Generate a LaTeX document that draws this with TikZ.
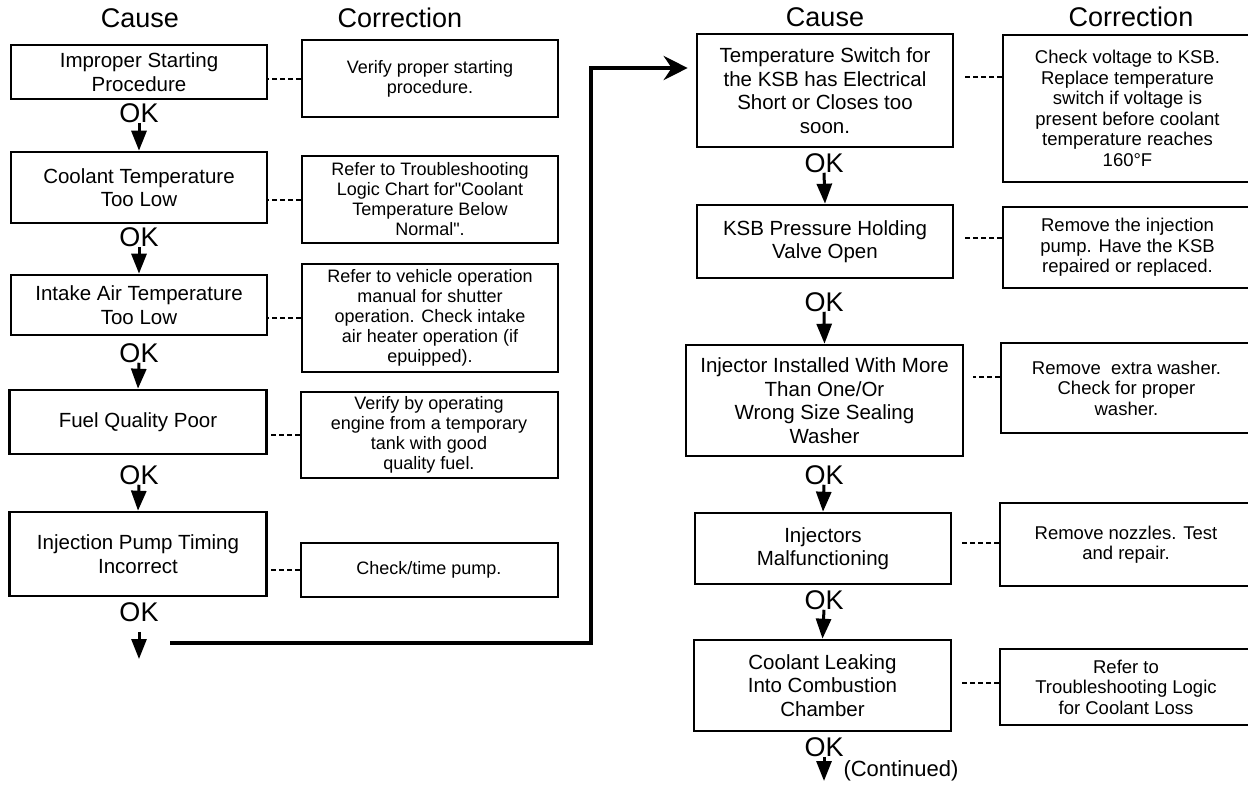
\documentclass[tikz,border=0pt]{standalone}
\usepackage{fontspec}
\setmainfont{Liberation Sans}[Ligatures=TeXOff]
\usepackage{tikz}
\usetikzlibrary{arrows.meta, calc, positioning}

\tikzset{
  causebox/.style={draw, line width=2.6pt, align=center, inner sep=2pt, font=\fontsize{20.5}{23.5}\selectfont},
  fixbox/.style={draw, line width=2pt, align=center, inner sep=2pt, font=\fontsize{18}{20}\selectfont},
  head/.style={font=\fontsize{27}{30}\selectfont},
  okmark/.style={font=\fontsize{27}{30}\selectfont, inner sep=0pt},
  okarrow/.style={line width=3pt, -{Triangle[length=20pt,width=15pt]}},
  dashlink/.style={line width=2pt, dash pattern=on 5pt off 3pt},
  jumpline/.style={line width=4.5pt, -{Stealth[length=24pt,width=24pt,inset=8pt]}}
}

\begin{document}
\begin{tikzpicture}[x=1pt, y=-1pt]
    \clip (0,0) rectangle (1248,785);

    % left column
    \node[head] (hc1) at (140,18) {Cause};
    \node[head] (hf1) at (400,18) {Correction};

    \node[causebox, minimum width=256pt, minimum height=54pt] (b1) at (139,72) {Improper Starting\\Procedure};
    \node[causebox, minimum width=256pt, minimum height=71pt] (b2) at (139,187.5) {Coolant Temperature\\Too Low};
    \node[causebox, minimum width=256pt, minimum height=60pt] (b3) at (139,305) {Intake Air Temperature\\Too Low};
    \node[causebox, minimum width=257pt, minimum height=64pt] (b4) at (138,422) {Fuel Quality Poor};
    \node[causebox, minimum width=257pt, minimum height=84pt] (b5) at (138,554) {Injection Pump Timing\\Incorrect};

    \node[fixbox, minimum width=256pt, minimum height=77pt] (c1) at (430,78.5) {Verify proper starting\\procedure.};
    \node[fixbox, minimum width=256pt, minimum height=87pt] (c2) at (430,199.5) {Refer to Troubleshooting\\Logic Chart for"Coolant\\Temperature Below\\Normal".};
    \node[fixbox, minimum width=256pt, minimum height=108pt] (c3) at (430,318) {Refer to vehicle operation\\manual for shutter\\operation. Check intake\\air heater operation (if\\epuipped).};
    \node[fixbox, minimum width=257pt, minimum height=86pt] (c4) at (429,435) {Verify by operating\\engine from a temporary\\tank with good\\quality fuel.};
    \node[fixbox, minimum width=257pt, minimum height=54pt] (c5) at (429,570) {Check/time pump.};

    \foreach \i in {1,...,5}
        \draw[dashlink] (c\i.west) -- (c\i.west -| b\i.east);

    \node[okmark] (ok1) at (139,113) {OK};
    \node[okmark] (ok2) at (139,237) {OK};
    \node[okmark] (ok3) at (139,353) {OK};
    \node[okmark] (ok4) at (139,475) {OK};
    \node[okmark] (ok5) at (139,612) {OK};
    \draw[okarrow] (ok1.south) -- (b2.north);
    \draw[okarrow] (ok2.south) -- (b3.north);
    \draw[okarrow] (ok3.south) -- (b4.north);
    \draw[okarrow] (ok4.south) -- (b5.north);
    \coordinate (end1) at (139,659);
    \draw[okarrow] ([yshift=-10pt]ok5.south) -- (end1);

    % jump to the second column
    \coordinate (jstart) at (170,643);
    \coordinate (jturn) at (591,68);

    % right column
    \node[head] (hc2) at (825,17) {Cause};
    \node[head] (hf2) at (1131,17) {Correction};

    \node[causebox, minimum width=256pt, minimum height=113pt] (r1) at (825,90.5) {Temperature Switch for\\the KSB has Electrical\\Short or Closes too\\soon.};
    \node[causebox, minimum width=256pt, minimum height=73pt] (r2) at (825,241.5) {KSB Pressure Holding\\Valve Open};
    \node[causebox, minimum width=277pt, minimum height=111pt] (r3) at (824.5,400.5) {Injector Installed With More\\Than One/Or\\Wrong Size Sealing\\Washer};
    \node[causebox, minimum width=256pt, minimum height=71pt] (r4) at (823,548.5) {Injectors\\Malfunctioning};
    \node[causebox, minimum width=257pt, minimum height=91pt] (r5) at (822.5,685.5) {Coolant Leaking\\Into Combustion\\Chamber};

    \node[fixbox, font=\fontsize{18.5}{20.5}\selectfont, minimum width=249pt, minimum height=147pt] (s1) at (1127.5,108.5) {Check voltage to KSB.\\Replace temperature\\switch if voltage is\\present before coolant\\temperature reaches\\160°F};
    \node[fixbox, font=\fontsize{18.5}{20.5}\selectfont, minimum width=249pt, minimum height=81pt] (s2) at (1127.5,247.5) {Remove the injection\\pump. Have the KSB\\repaired or replaced.};
    \node[fixbox, font=\fontsize{18.5}{20.5}\selectfont, minimum width=251pt, minimum height=90pt] (s3) at (1126.5,388) {Remove\ \ extra washer.\\Check for proper\\washer.};
    \node[fixbox, font=\fontsize{18.5}{20.5}\selectfont, minimum width=252pt, minimum height=83pt] (s4) at (1126,544.5) {Remove nozzles. Test\\and repair.};
    \node[fixbox, font=\fontsize{18.5}{20.5}\selectfont, minimum width=252pt, minimum height=76pt] (s5) at (1126,687) {Refer to\\Troubleshooting Logic\\for Coolant Loss};

    \coordinate (d1) at ([yshift=31.5pt]s1.west);
    \coordinate (d2) at ([yshift=9.5pt]s2.west);
    \coordinate (d3) at ([yshift=11pt]s3.west);
    \coordinate (d4) at ([yshift=1.5pt]s4.west);
    \coordinate (d5) at ([yshift=4pt]s5.west);
    \foreach \i in {1,...,5}
        \draw[dashlink, shorten >=9pt] (d\i) -- (d\i -| r\i.east);

    \node[okmark] (ok6) at (824,163) {OK};
    \node[okmark] (ok7) at (824,302) {OK};
    \node[okmark] (ok8) at (824,475) {OK};
    \node[okmark] (ok9) at (824,600) {OK};
    \node[okmark] (ok10) at (824,747) {OK};
    \draw[okarrow] (ok6.south) -- (r2.north);
    \draw[okarrow] (ok7.south) -- (r3.north);
    \draw[okarrow] (ok8.south) -- (r4.north);
    \draw[okarrow] (ok9.south) -- (r5.north);
    \coordinate (end2) at (824,781);
    \draw[okarrow] (ok10.south) -- (end2);
    \node[font=\fontsize{22}{24}\selectfont] (cont) at (901,771) {(Continued)};

    \draw[jumpline, shorten >=8pt] (jstart) -| (jturn) -- (jturn -| r1.west);
\end{tikzpicture}
\end{document}
